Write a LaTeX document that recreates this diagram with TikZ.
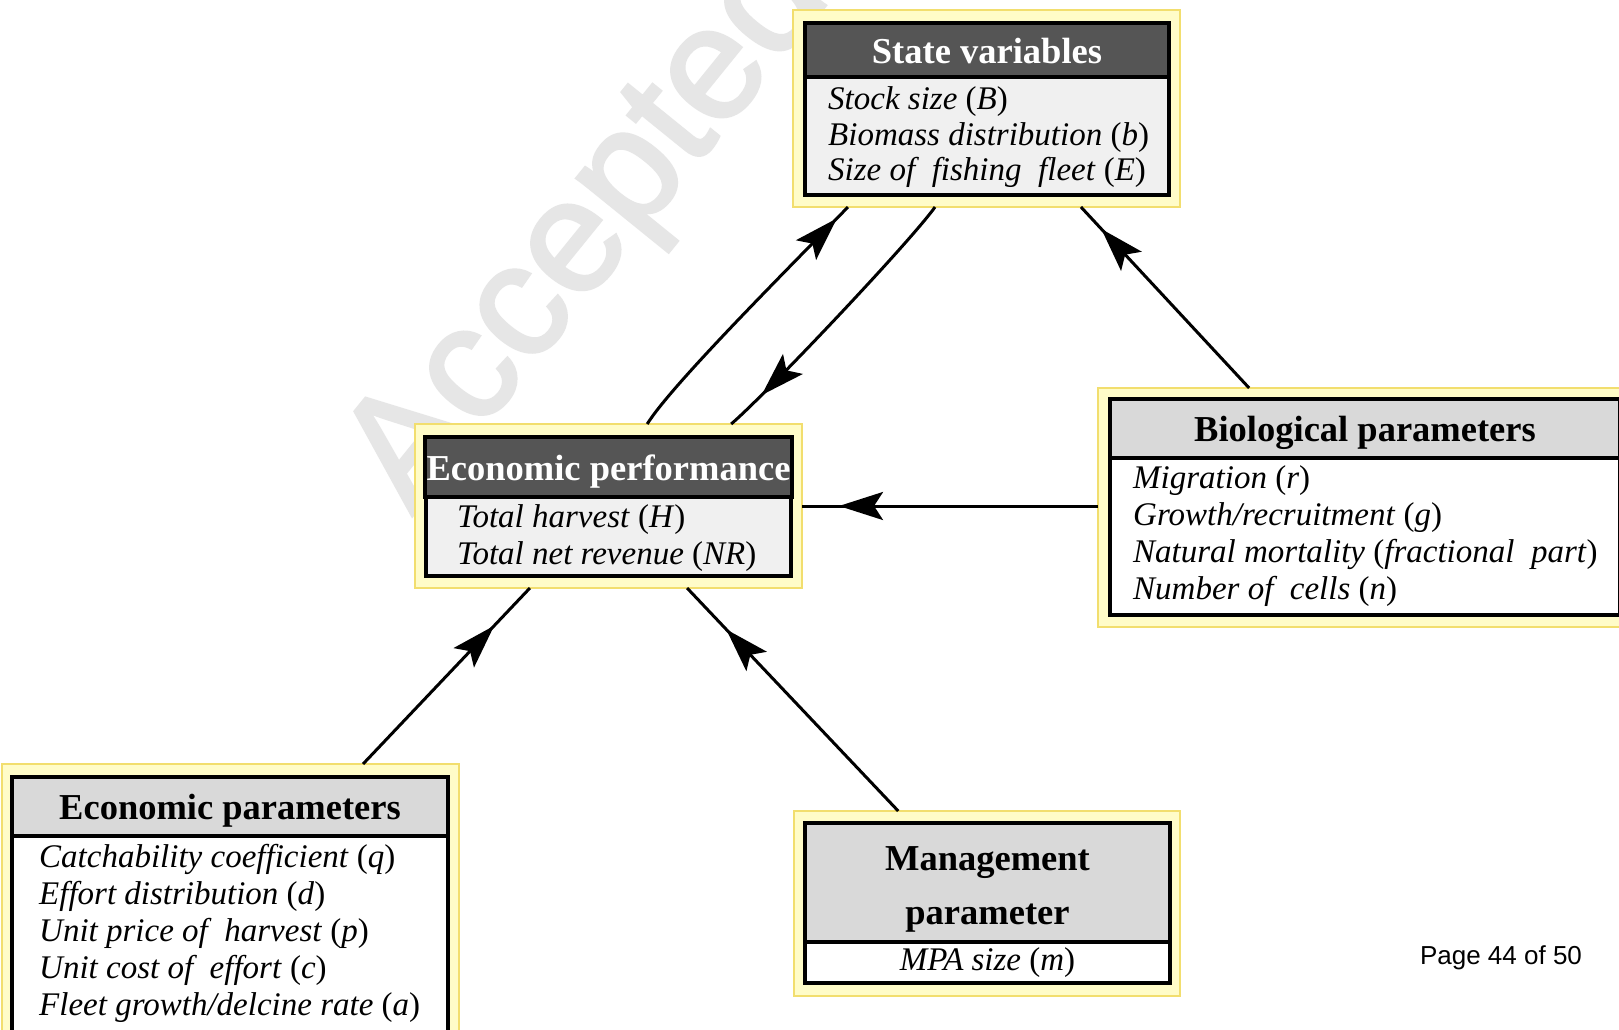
\documentclass[tikz,border=0pt]{standalone}
\usepackage{fontspec}
\setmainfont{Liberation Serif}
\setsansfont{Liberation Sans}
\newfontfamily\stampfont[RawFeature={embolden=2}]{Liberation Sans}
\usepackage{tikz}
\usetikzlibrary{arrows.meta, positioning, calc, decorations.markings}

\definecolor{headdark}{HTML}{555555}
\definecolor{headlight}{HTML}{D9D9D9}
\definecolor{bodylight}{HTML}{F0F0F0}
\definecolor{framefill}{HTML}{FFFCC8}
\definecolor{frameline}{HTML}{F2DE6E}
\definecolor{stampgray}{HTML}{E6E6E6}

\newcommand{\headfont}{\fontsize{36.5}{54}\selectfont\bfseries}
\newcommand{\bodyfont}{\fontsize{33}{37}\selectfont\itshape}
\newcommand{\pvar}[1]{\textup{(}#1\textup{)}}

\begin{document}
\begin{tikzpicture}[
    x=1pt, y=-1pt,
    frame/.style={rectangle, draw=frameline, fill=framefill, line width=1.5pt, outer sep=0pt},
    panelhead/.style={rectangle, draw=black, line width=4pt, outer sep=0pt, inner sep=2pt, anchor=north, font=\headfont, text height=26pt, text depth=0pt},
    darkhead/.style={panelhead, fill=headdark, text=white},
    lighthead/.style={panelhead, fill=headlight, text=black},
    headtext/.style={inner sep=0pt, font=\headfont, align=center},
    panelbody/.style={rectangle, draw=black, line width=4pt, outer sep=0pt, inner sep=2pt, anchor=north, font=\bodyfont},
    bodytext/.style={anchor=west, inner sep=0pt, font=\bodyfont, align=left},
    stamp/.style={anchor=base west, rotate=51, inner sep=0pt, text=stampgray, font=\fontsize{160}{160}\selectfont\stampfont},
    flow/.style={draw=black, line width=3pt, postaction={decorate},
        decoration={markings, mark=at position #1 with {\arrow{Stealth[length=44pt, width=28pt, inset=9pt]}}}}
]
\useasboundingbox (0,0) rectangle (1619,1029);
\clip (0,0) rectangle (1619,1029);
\fill[white] (0,0) rectangle (1619,1029);

% Watermark
\node[stamp] (stamp) at (412,516) {Accepted};

% Frames
\node[frame, minimum width=387pt, minimum height=197pt] (state) at (986.5,108.5) {};
\node[frame, minimum width=387pt, minimum height=164pt] (econperf) at (608.5,506) {};
\node[frame, minimum width=534pt, minimum height=239pt] (bioparam) at (1365,507.5) {};
\node[frame, minimum width=457pt, minimum height=290pt] (econparam) at (230.5,909) {};
\node[frame, minimum width=386pt, minimum height=185pt] (mgmt) at (987,903.5) {};

% State variables
\node[darkhead, minimum width=364pt, minimum height=54pt] (statehead) at (987,23) {State variables};
\node[panelbody, minimum width=364pt, minimum height=118pt, fill=bodylight] (statebody) at (statehead.south) {};
\node[bodytext, font=\fontsize{33}{35.5}\selectfont\itshape] (statetext) at ([xshift=23pt, yshift=-1.5pt]statebody.west)
    {Stock size \pvar{B}\\ Biomass distribution \pvar{b}\\ Size of~ fishing~ fleet \pvar{E}};

% Economic performance
\node[darkhead, minimum width=365pt, minimum height=60pt] (econperfhead) at (608.5,437) {Economic performance};
\node[panelbody, minimum width=365pt, minimum height=79pt, fill=bodylight] (econperfbody) at (econperfhead.south) {};
\node[bodytext] (econperftext) at ([xshift=31pt, yshift=-2pt]econperfbody.west)
    {Total harvest \pvar{H}\\ Total net revenue \pvar{NR}};

% Biological parameters
\node[lighthead, minimum width=510pt, minimum height=59pt] (biohead) at (1365,399) {Biological parameters};
\node[panelbody, minimum width=510pt, minimum height=157pt, fill=white] (biobody) at (biohead.south) {};
\node[bodytext] (biotext) at ([xshift=23pt]biobody.west)
    {Migration \pvar{r}\\ Growth/recruitment \pvar{g}\\ Natural mortality \pvar{fractional~ part}\\ Number of~ cells \pvar{n}};

% Economic parameters
\node[lighthead, minimum width=436pt, minimum height=59pt] (econhead) at (230,777) {Economic parameters};
\node[panelbody, minimum width=436pt, minimum height=200pt, fill=white] (econbody) at (econhead.south) {};
\node[bodytext] (econtext) at ([xshift=27pt, yshift=2.5pt]econbody.west)
    {Catchability coefficient \pvar{q}\\ Effort distribution \pvar{d}\\ Unit price of~ harvest \pvar{p}\\ Unit cost of~ effort \pvar{c}\\ Fleet growth/delcine rate \pvar{a}};

% Management parameter
\node[lighthead, minimum width=365pt, minimum height=119pt] (mgmthead) at (987.5,823) {};
\node[headtext] (mgmttitle) at ([yshift=-7pt]mgmthead.center) {Management\\ parameter};
\node[panelbody, minimum width=365pt, minimum height=41pt, fill=white] (mgmtbody) at (mgmthead.south) {MPA size \pvar{m}};

% Page number
\node[font=\fontsize{26}{26}\selectfont\sffamily] (pagenum) at (1501,958) {Page 44 of 50};

% Paths
\draw[flow=-16pt] ($(econperf.north west)!0.60!(econperf.north east)$) .. controls +(25,-40) and +(-60,62) .. ($(state.south west)!0.142!(state.south east)$);
\draw[flow=-42pt] ($(state.south west)!0.367!(state.south east)$) .. controls +(-25,35) and +(35,-30) .. ($(econperf.north west)!0.817!(econperf.north east)$);
\draw[flow=-30pt] ($(bioparam.north west)!0.283!(bioparam.north east)$) -- ($(state.south west)!0.744!(state.south east)$);
\draw[flow=-37pt] (bioparam.west |- econperf.east) -- (econperf.east);
\draw[flow=-52pt] ($(econparam.north west)!0.79!(econparam.north east)$) -- ($(econperf.south west)!0.297!(econperf.south east)$);
\draw[flow=-57pt] ($(mgmt.north west)!0.27!(mgmt.north east)$) -- ($(econperf.south west)!0.703!(econperf.south east)$);

\end{tikzpicture}
\end{document}
